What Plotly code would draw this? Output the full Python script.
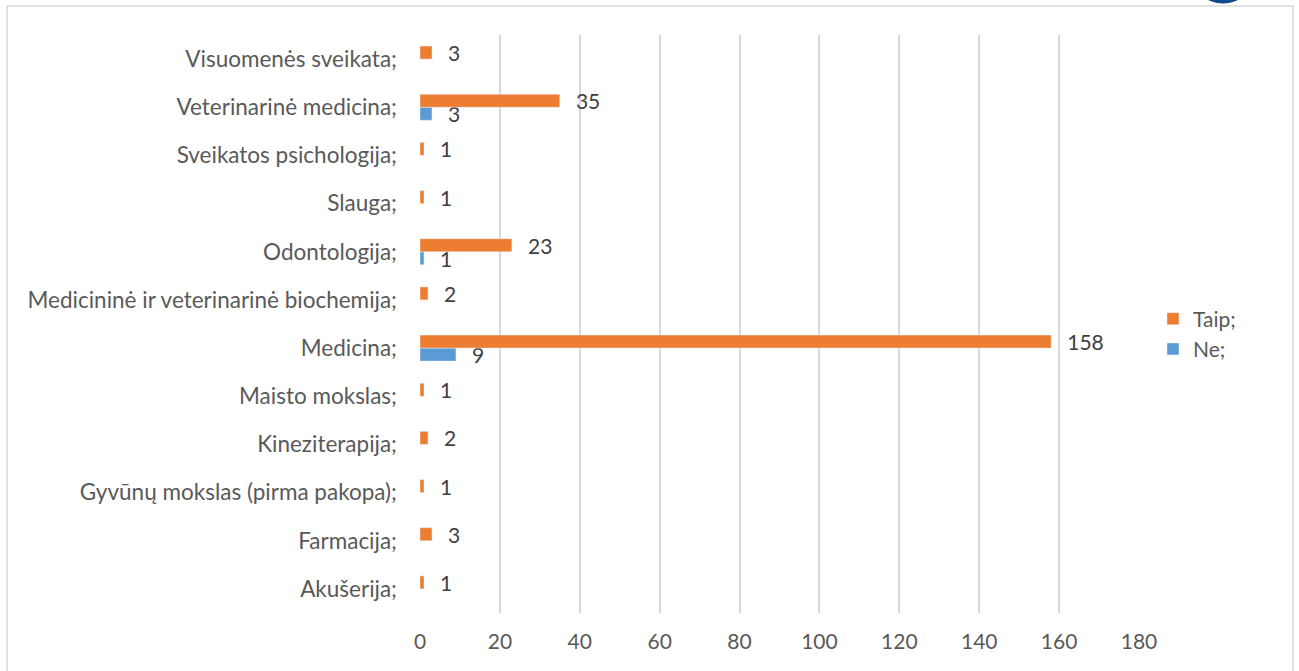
import plotly.graph_objects as go

categories = ["Akušerija;", "Farmacija;", "Gyvūnų mokslas (pirma pakopa);", "Kineziterapija;",
              "Maisto mokslas;", "Medicina;", "Medicininė ir veterinarinė biochemija;",
              "Odontologija;", "Slauga;", "Sveikatos psichologija;", "Veterinarinė medicina;",
              "Visuomenės sveikata;"]
taip = [1, 3, 1, 2, 1, 158, 2, 23, 1, 1, 35, 3]
ne = [None, None, None, None, None, 9, None, 1, None, None, 3, None]
x_ticks = [0, 20, 40, 60, 80, 100, 120, 140, 160, 180]

W, H = 1299, 671
L, R, T, B = 420, 160, 35, 58
pw, ph = W - L - R, H - T - B
FONT = "Lato"
FS = 21
FS_CAT = 22.5

def px_x(p):
    return (p - L) / pw

def px_y(p):
    return (H - B - p) / ph

PAD = "\u2002\u2009"
fig = go.Figure()
fig.add_trace(go.Bar(y=categories, x=ne, orientation="h", name="Ne;",
                     marker_color="#5B9BD5",
                     text=[PAD + str(v) if v is not None else "" for v in ne],
                     textposition="outside", cliponaxis=False, constraintext="none",
                     textfont=dict(family=FONT, size=FS, color="#404040")))
fig.add_trace(go.Bar(y=categories, x=taip, orientation="h", name="Taip;",
                     marker_color="#ED7D31",
                     text=[PAD + str(v) for v in taip],
                     textposition="outside", cliponaxis=False, constraintext="none",
                     textfont=dict(family=FONT, size=FS, color="#404040")))

fig.update_layout(
    width=W, height=H,
    margin=dict(l=L, r=R, t=T, b=B, autoexpand=False),
    barmode="group", bargap=0.46, bargroupgap=0,
    plot_bgcolor="white", paper_bgcolor="white",
    font=dict(family=FONT, size=FS, color="#595959"),
    showlegend=True,
    legend=dict(x=px_x(1153), y=px_y(334), xanchor="left", yanchor="middle",
                traceorder="reversed", font=dict(family=FONT, size=FS, color="#595959"),
                itemwidth=30, tracegroupgap=0, bgcolor="rgba(0,0,0,0)"),
    xaxis=dict(range=[0, 180], tickvals=x_ticks, showgrid=True, gridcolor="#d9d9d9",
               gridwidth=2, zeroline=False, showline=False, ticks="",
               ticklabelstandoff=14, tickfont=dict(family=FONT, size=FS, color="#595959")),
    yaxis=dict(showgrid=False, zeroline=False, showline=False, ticks="",
               ticklabelstandoff=22, tickfont=dict(family=FONT, size=FS_CAT, color="#595959")),
    shapes=[
        dict(type="rect", xref="paper", yref="paper",
             x0=px_x(7), x1=px_x(1293), y0=px_y(675), y1=px_y(6),
             line=dict(color="#d9d9d9", width=1.5), fillcolor="rgba(0,0,0,0)", layer="below"),
        dict(type="circle", xref="paper", yref="paper",
             x0=px_x(1196), x1=px_x(1250), y0=px_y(3), y1=px_y(-40),
             line=dict(color="#0b3b7a", width=1), fillcolor="#0d4a8f"),
    ],
)

fig.write_html("out.html", config={"displayModeBar": False},
               post_script="document.body.style.margin='0';")
